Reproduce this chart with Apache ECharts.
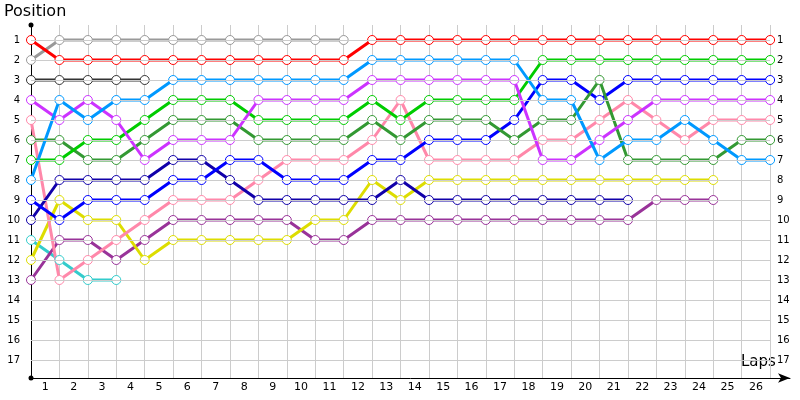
<!DOCTYPE html>
<html><head><meta charset="utf-8">
<script src="https://cdn.jsdelivr.net/npm/echarts@6/dist/echarts.min.js"></script>
<style>html,body{margin:0;padding:0;background:#fff}#c{width:800px;height:400px}</style>
</head><body><div id="c"></div>
<script>
// laps 0..26
const laps = [0,1,2,3,4,5,6,7,8,9,10,11,12,13,14,15,16,17,18,19,20,21,22,23,24,25,26];
const lapLabels = ['1','2','3','4','5','6','7','8','9','10','11','12','13','14','15','16','17','18','19','20','21','22','23','24','25','26'];
const positions = [1,2,3,4,5,6,7,8,9,10,11,12,13,14,15,16,17];

const red       = [1,2,2,2,2,2,2,2,2,2,2,2,1,1,1,1,1,1,1,1,1,1,1,1,1,1,1];
const gray      = [2,1,1,1,1,1,1,1,1,1,1,1];
const darkGray  = [3,3,3,3,3];
const lightBlue = [8,4,5,4,4,3,3,3,3,3,3,3,2,2,2,2,2,2,4,4,7,6,6,5,6,7,7];
const violet    = [4,5,4,5,7,6,6,6,4,4,4,4,3,3,3,3,3,3,7,7,6,5,4,4,4,4,4];
const green     = [7,7,6,6,5,4,4,4,5,5,5,5,4,5,4,4,4,4,2,2,2,2,2,2,2,2,2];
const darkGreen = [6,6,7,7,6,5,5,5,6,6,6,6,5,6,5,5,5,6,5,5,3,7,7,7,7,6,6];
const navy      = [10,8,8,8,8,7,7,8,9,9,9,9,9,8,9,9,9,9,9,9,9,9];
const blue      = [9,10,9,9,9,8,8,7,7,8,8,8,7,7,6,6,6,5,3,3,4,3,3,3,3,3,3];
const pink      = [5,13,12,11,10,9,9,9,8,7,7,7,6,4,7,7,7,7,6,6,5,4,5,6,5,5,5];
const yellow    = [12,9,10,10,12,11,11,11,11,11,10,10,8,9,8,8,8,8,8,8,8,8,8,8,8];
const darkPurple= [13,11,11,12,11,10,10,10,10,10,11,11,10,10,10,10,10,10,10,10,10,10,9,9,9];
const teal      = [11,12,13,13];

const drivers = [
  {d: teal, c: '#33cccc'},
  {d: darkPurple, c: '#993399'},
  {d: yellow, c: '#dddd00'},
  {d: pink, c: '#ff88aa'},
  {d: navy, c: '#1100aa'},
  {d: blue, c: '#0000ff'},
  {d: darkGreen, c: '#339933'},
  {d: green, c: '#00cc00'},
  {d: violet, c: '#cc33ff'},
  {d: lightBlue, c: '#0099ff'},
  {d: darkGray, c: '#333333'},
  {d: gray, c: '#999999'},
  {d: red, c: '#ff0000'}
];

const font = 'DejaVu Sans';
const series = [{
  type: 'line', data: [], silent: true,
  markLine: {
    silent: true, symbol: 'none', animation: false,
    label: {show: false},
    lineStyle: {color: '#cccccc', width: 1, type: 'solid'},
    data: positions.map(p => [{coord: [laps[0], p]}, {coord: [laps[laps.length-1], p]}])
  }
}];
drivers.forEach(dr => {
  series.push({
    type: 'line',
    data: dr.d.map((v, i) => [laps[i], v]),
    symbol: 'circle', symbolSize: 9,
    lineStyle: {color: dr.c, width: 3},
    itemStyle: {color: '#ffffff', borderColor: dr.c, borderWidth: 1},
    emphasis: {disabled: true},
    z: 3
  });
});

const chart = echarts.init(document.getElementById('c'), null, {renderer: 'canvas'});
chart.setOption({
  animation: false,
  backgroundColor: '#ffffff',
  grid: {left: 31, right: 10, top: 25, bottom: 22, containLabel: false},
  xAxis: {
    type: 'value', min: 0, max: 26.7,
    axisLine: {show: true, lineStyle: {color: '#000', width: 1}, symbol: ['none', 'arrow'], symbolSize: [7, 12]},
    axisTick: {show: false, customValues: laps.slice(1)},
    axisLabel: {customValues: laps.slice(1).map(v => v - 0.5), formatter: v => lapLabels[Math.round(v + 0.5) - 1],
      color: '#000', fontFamily: font, fontSize: 11, margin: 4},
    splitLine: {show: true, lineStyle: {color: '#cccccc', width: 1}}
  },
  yAxis: [{
    type: 'value', inverse: true, min: 0.25, max: 17.9,
    axisLine: {show: true, lineStyle: {color: '#000', width: 1}, symbol: ['circle', 'circle'], symbolSize: [5, 5]},
    axisTick: {show: false, customValues: positions},
    axisLabel: {customValues: positions, color: '#000', fontFamily: font, fontSize: 10, margin: 11},
    splitLine: {show: false}
  }, {
    type: 'value', inverse: true, min: 0.25, max: 17.9, position: 'right', offset: -15,
    axisLine: {show: false},
    axisTick: {show: false, customValues: positions},
    axisLabel: {customValues: positions, color: '#000', fontFamily: font, fontSize: 10, margin: 2},
    splitLine: {show: false}
  }],
  graphic: [
    {type: 'text', left: 4, top: 4, style: {text: 'Position', font: '16px "DejaVu Sans"', fill: '#000'}},
    {type: 'text', left: 741, top: 355, style: {text: 'Laps', font: '15px "DejaVu Sans"', fill: '#000'}}
  ],
  series: series
});
</script></body></html>
